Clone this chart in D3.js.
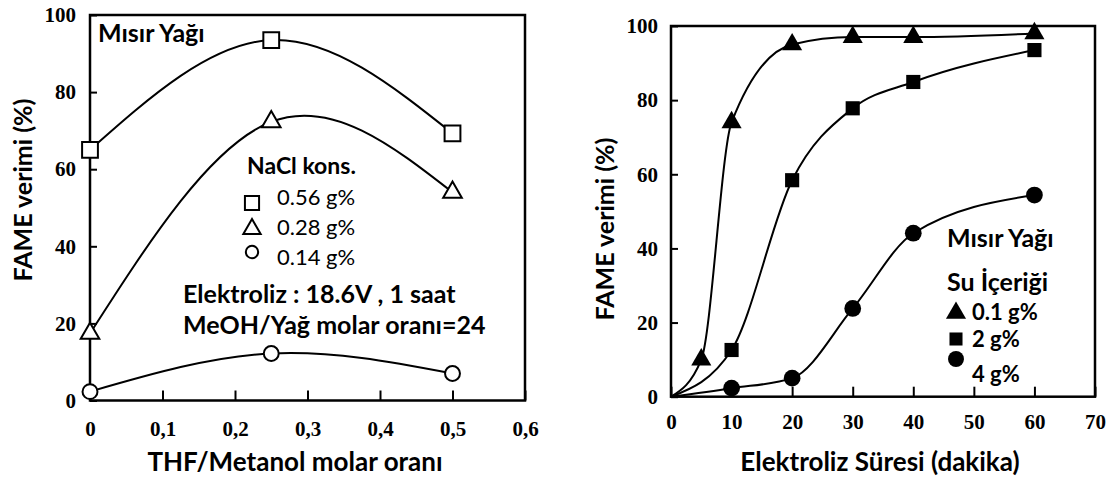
<!DOCTYPE html>
<html>
<head>
<meta charset="utf-8">
<script src="https://cdn.jsdelivr.net/npm/d3@7"></script>
<style>
  html, body { margin: 0; padding: 0; background: #fff; }
  svg { display: block; }
  .tick text { font-family: "Liberation Serif", "Times New Roman", serif; font-weight: bold; font-size: 21px; fill: #000; }
  .lbl { font-family: Lato, "Open Sans", sans-serif; fill: #000; }
</style>
</head>
<body>
<svg id="chart" width="1110" height="479"></svg>
<script>
// ---- Left panel: yield vs THF/methanol ratio for three NaCl concentrations
const thfRatio = [0, 0.25, 0.5];
const naclLabels = ["0.56 g%", "0.28 g%", "0.14 g%"];
const yieldNacl056 = [65, 93.5, 69.3];
const yieldNacl028 = [17.4, 72.3, 54];
const yieldNacl014 = [2.3, 12.2, 7];
const ratioTicks = [0, 0.1, 0.2, 0.3, 0.4, 0.5, 0.6];
const ratioTickLabels = ["0", "0,1", "0,2", "0,3", "0,4", "0,5", "0,6"];

// ---- Right panel: yield vs electrolysis time for three water contents
const waterLabels = ["0.1 g%", "2 g%", "4 g%"];
const timeWater01 = [5, 10, 20, 30, 40, 60];
const yieldWater01 = [10, 74, 95, 97, 97, 98];
const timeWater2 = [10, 20, 30, 40, 60];
const yieldWater2 = [12.6, 58.4, 77.8, 84.9, 93.5];
const timeWater4 = [10, 20, 30, 40, 60];
const yieldWater4 = [2.3, 5, 23.8, 44.1, 54.4];
const timeTicks = [0, 10, 20, 30, 40, 50, 60, 70];

const yieldTicks = [0, 20, 40, 60, 80, 100];

const svg = d3.select("#chart");

function zip(xs, ys) { return xs.map((x, i) => [x, ys[i]]); }

function frame(g, x, y) {
  g.append("rect")
    .attr("x", x.range()[0]).attr("y", y(100))
    .attr("width", x.range()[1] - x.range()[0])
    .attr("height", y(0) - y(100))
    .attr("fill", "none").attr("stroke", "#000").attr("stroke-width", 2.5);
}

function axes(g, x, y, xTicks, xFmt, xPad, yPad) {
  const ax = g.append("g")
    .attr("transform", `translate(0,${y(0)})`)
    .call(d3.axisBottom(x).tickValues(xTicks).tickFormat(xFmt)
      .tickSizeInner(-10).tickSizeOuter(0).tickPadding(xPad));
  const ay = g.append("g")
    .attr("transform", `translate(${x.range()[0]},0)`)
    .call(d3.axisLeft(y).tickValues(yieldTicks).tickFormat(d3.format("d"))
      .tickSizeInner(-7).tickSizeOuter(0).tickPadding(yPad));
  [ax, ay].forEach(a => {
    a.select(".domain").remove();
    a.selectAll(".tick line").attr("stroke", "#000").attr("stroke-width", 2);
  });
}

function text(g, str, x, y, size, weight, anchor, rotate) {
  const t = g.append("text").attr("class", "lbl")
    .attr("font-size", size).attr("font-weight", weight)
    .attr("text-anchor", anchor || "start")
    .text(str);
  if (rotate) t.attr("transform", `translate(${x},${y}) rotate(${rotate})`);
  else t.attr("x", x).attr("y", y);
  return t;
}

const sym = (type, size) => d3.symbol().type(type).size(size)();

// ================= Left panel =================
{
  const x = d3.scaleLinear().domain([0, 0.6]).range([90, 525]);
  const y = d3.scaleLinear().domain([0, 100]).range([400.5, 15]);
  const g = svg.append("g");

  axes(g, x, y, ratioTicks, (d, i) => ratioTickLabels[i], 21, 14);
  frame(g, x, y);

  const line = d3.line().x(d => x(d[0])).y(d => y(d[1])).curve(d3.curveNatural);
  const series = [
    { vals: yieldNacl056, shape: d3.symbolSquare, size: 250 },
    { vals: yieldNacl028, shape: d3.symbolTriangle, size: 150 },
    { vals: yieldNacl014, shape: d3.symbolCircle, size: 175 }
  ];
  series.forEach(s => {
    const pts = zip(thfRatio, s.vals);
    g.append("path").attr("d", line(pts))
      .attr("fill", "none").attr("stroke", "#000").attr("stroke-width", 2);
    g.selectAll(null).data(pts).join("path")
      .attr("d", sym(s.shape, s.size))
      .attr("transform", d => `translate(${x(d[0])},${y(d[1])})`)
      .attr("fill", "#fff").attr("stroke", "#000").attr("stroke-width", 2);
  });

  // legend
  text(g, "NaCl kons.", 247, 174, 23, "bold");
  const legendShapes = [[d3.symbolSquare, 200], [d3.symbolTriangle, 130], [d3.symbolCircle, 120]];
  const legendY = [203, 229, 252];
  naclLabels.forEach((lab, i) => {
    g.append("path").attr("d", sym(legendShapes[i][0], legendShapes[i][1]))
      .attr("transform", `translate(252,${legendY[i]})`)
      .attr("fill", "#fff").attr("stroke", "#000").attr("stroke-width", 2);
    text(g, lab, 277, 205 + i * 30, 22, "normal");
  });

  text(g, "Mısır Yağı", 98, 42, 25, "bold");
  text(g, "Elektroliz : 18.6V , 1 saat", 183, 303, 25, "bold");
  text(g, "MeOH/Yağ molar oranı=24", 183, 334, 25, "bold");

  text(g, "FAME verimi (%)", 32, 190, 25, "bold", "middle", -90);
  text(g, "THF/Metanol molar oranı", 295, 471, 26, "bold", "middle");
}

// ================= Right panel =================
{
  const x = d3.scaleLinear().domain([0, 70]).range([671, 1095]);
  const y = d3.scaleLinear().domain([0, 100]).range([396.7, 26]);
  const g = svg.append("g");

  axes(g, x, y, timeTicks, d3.format("d"), 17, 13);
  frame(g, x, y);

  const line = d3.line().x(d => x(d[0])).y(d => y(d[1])).curve(d3.curveMonotoneX);
  const series = [
    { t: timeWater01, vals: yieldWater01, shape: d3.symbolTriangle, size: 175 },
    { t: timeWater2, vals: yieldWater2, shape: d3.symbolSquare, size: 200 },
    { t: timeWater4, vals: yieldWater4, shape: d3.symbolCircle, size: 220 }
  ];
  series.forEach(s => {
    const pts = zip(s.t, s.vals);
    // every curve rises from the origin
    g.append("path").attr("d", line([[0, 0]].concat(pts)))
      .attr("fill", "none").attr("stroke", "#000").attr("stroke-width", 2);
    g.selectAll(null).data(pts).join("path")
      .attr("d", sym(s.shape, s.size))
      .attr("transform", d => `translate(${x(d[0])},${y(d[1])})`)
      .attr("fill", "#000");
  });

  text(g, "Mısır Yağı", 947, 247, 25, "bold");
  text(g, "Su İçeriği", 947, 291, 25, "bold");
  const legendShapes = [[d3.symbolTriangle, 175], [d3.symbolSquare, 170], [d3.symbolCircle, 200]];
  const symY = [313, 339, 359];
  const labY = [320, 347, 382];
  waterLabels.forEach((lab, i) => {
    g.append("path").attr("d", sym(legendShapes[i][0], legendShapes[i][1]))
      .attr("transform", `translate(956,${symY[i]})`).attr("fill", "#000");
    text(g, lab, 972, labY[i], 22, "bold");
  });

  text(g, "FAME verimi (%)", 614, 229, 25, "bold", "middle", -90);
  text(g, "Elektroliz Süresi (dakika)", 880, 471, 26, "bold", "middle");
}
</script>
</body>
</html>
